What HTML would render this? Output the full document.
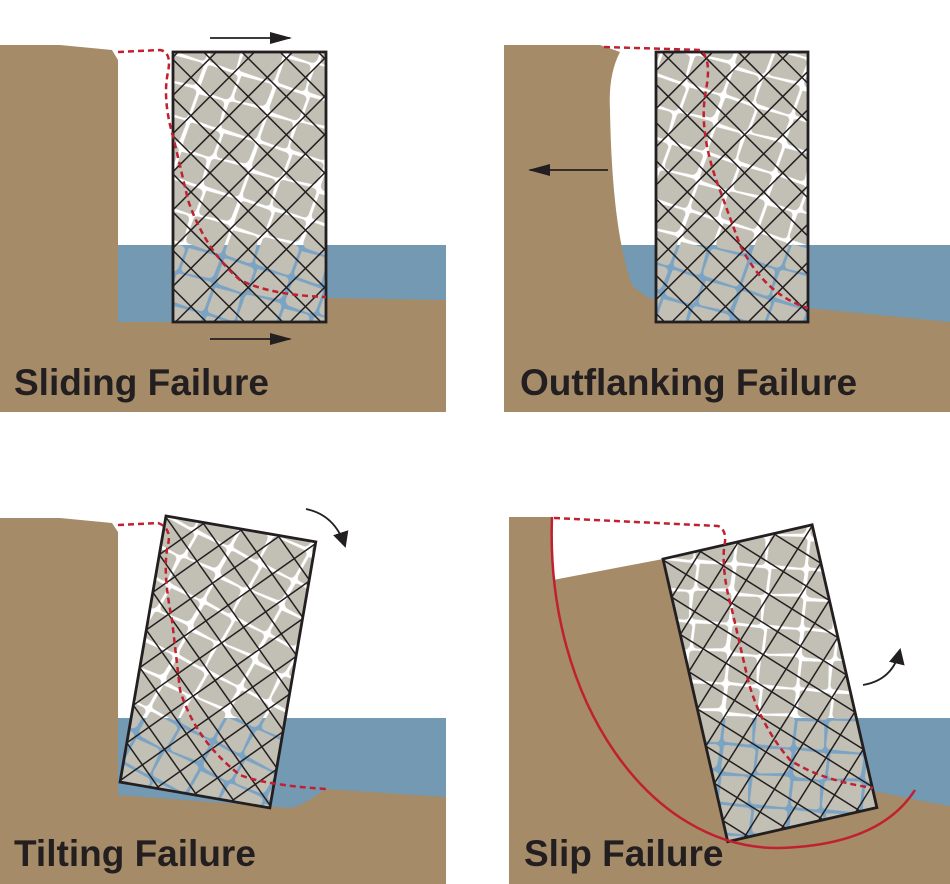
<!DOCTYPE html>
<html><head><meta charset="utf-8"><style>
html,body{margin:0;padding:0;background:#fff;}
svg{display:block;}
text{font-family:"Liberation Sans",sans-serif;font-weight:bold;font-size:37px;fill:#231f20;}
</style></head><body>
<svg width="950" height="884" viewBox="0 0 950 884" xmlns="http://www.w3.org/2000/svg">
<defs>
<g id="stones" fill="#c2bfb5">
<path d="M2,3 Q2,1 6,1 L30,2 Q35,3 34,8 L33,24 Q32,29 27,29 L6,28 Q1,27 1,22 Z"/>
<path d="M37,2 L66,1 Q71,2 70,7 L69,20 Q68,25 63,25 L41,27 Q36,27 36,22 Z"/>
<path d="M2,32 L24,31 Q29,31 29,36 L30,55 Q30,59 25,59 L5,58 Q1,58 1,53 Z"/>
<path d="M33,33 Q33,29 38,29 L66,28 Q71,28 71,33 L70,54 Q70,59 65,59 L37,58 Q32,58 32,53 Z"/>
</g>
<pattern id="sw" patternUnits="userSpaceOnUse" width="72" height="60" patternTransform="rotate(17)">
<rect width="72" height="60" fill="#fff"/><use href="#stones"/>
</pattern>
<pattern id="sb" patternUnits="userSpaceOnUse" width="72" height="60" patternTransform="rotate(17)">
<rect width="72" height="60" fill="#7aa3c4"/><use href="#stones"/>
</pattern>
<pattern id="grid" patternUnits="userSpaceOnUse" width="27" height="27" patternTransform="rotate(45)">
<path d="M0,0 V27 M0,0 H27" stroke="#231f20" stroke-width="3" fill="none"/>
</pattern>
<clipPath id="w1"><rect x="0" y="245" width="950" height="200"/></clipPath>
<clipPath id="w3"><rect x="0" y="718" width="950" height="200"/></clipPath>
<marker id="ah" markerWidth="22" markerHeight="12" refX="20" refY="6" orient="auto" markerUnits="userSpaceOnUse"><path d="M0,0 L22,6 L0,12 Z" fill="#231f20"/></marker>
<marker id="ah2" markerWidth="16" markerHeight="20" refX="14" refY="8" orient="auto" markerUnits="userSpaceOnUse"><path d="M0,0 L16,8 L0,16 Z" fill="#231f20"/></marker>
</defs>

<!-- Panel 1 -->
<rect x="118" y="245" width="328" height="80" fill="#7399b3"/>
<polygon points="0,45 60,45 112,50 118,60 118,322 326,322 326,298 446,300 446,412 0,412" fill="#a58b67"/>
<rect x="173" y="52" width="153" height="270" fill="url(#sw)"/>
<rect x="173" y="52" width="153" height="270" fill="url(#sb)" clip-path="url(#w1)"/>
<rect x="173" y="52" width="153" height="270" fill="url(#grid)" stroke="#231f20" stroke-width="2.8"/>
<path d="M118,52 L160,50 Q172,52 168,72 Q162,100 174,140 L188,200 Q205,250 240,280 Q270,295 326,297" fill="none" stroke="#c0202f" stroke-width="2.5" stroke-dasharray="6,4"/>
<line x1="210" y1="38" x2="290" y2="38" stroke="#231f20" stroke-width="1.8" marker-end="url(#ah)"/>
<line x1="210" y1="339" x2="290" y2="339" stroke="#231f20" stroke-width="1.8" marker-end="url(#ah)"/>
<text x="14" y="395">Sliding Failure</text>

<!-- Panel 2 -->
<rect x="600" y="245" width="350" height="80" fill="#7399b3"/>
<path d="M504,45 L600,45 L620,52 Q608,75 610,110 Q612,230 632,285 Q645,298 656,300 L656,322 L808,322 L808,308 L950,322 L950,412 L504,412 Z" fill="#a58b67"/>
<rect x="656" y="52" width="152" height="270" fill="url(#sw)"/>
<rect x="656" y="52" width="152" height="270" fill="url(#sb)" clip-path="url(#w1)"/>
<rect x="656" y="52" width="152" height="270" fill="url(#grid)" stroke="#231f20" stroke-width="2.8"/>
<path d="M604,47 L700,50 Q712,58 706,90 Q698,130 718,185 L740,245 Q765,295 808,308" fill="none" stroke="#c0202f" stroke-width="2.5" stroke-dasharray="6,4"/>
<line x1="608" y1="170" x2="530" y2="170" stroke="#231f20" stroke-width="1.8" marker-end="url(#ah)"/>
<text x="520" y="395">Outflanking Failure</text>

<!-- Panel 3 -->
<rect x="118" y="718" width="328" height="90" fill="#7399b3"/>
<path d="M0,518 L60,518 L112,523 L118,532 L118,795 L290,808 Q305,805 325,789 L446,797 L446,884 L0,884 Z" fill="#a58b67"/>
<g transform="translate(166,516) rotate(9.8)"><rect x="0" y="0" width="152" height="270" fill="url(#sw)"/></g>
<g clip-path="url(#w3)"><g transform="translate(166,516) rotate(9.8)"><rect x="0" y="0" width="152" height="270" fill="url(#sb)"/></g></g>
<g transform="translate(166,516) rotate(9.8)"><rect x="0" y="0" width="152" height="270" fill="url(#grid)" stroke="#231f20" stroke-width="2.8"/></g>
<path d="M118,525 L158,523 Q172,528 168,545 Q162,570 172,620 L180,690 Q195,740 240,775 Q265,785 326,789" fill="none" stroke="#c0202f" stroke-width="2.5" stroke-dasharray="6,4"/>
<path d="M306,509 Q335,515 345,546" fill="none" stroke="#231f20" stroke-width="1.8" marker-end="url(#ah2)"/>
<text x="14" y="866">Tilting Failure</text>

<!-- Panel 4 -->
<rect x="509" y="517" width="441" height="367" fill="#a58b67"/>
<polygon points="552,517 950,517 950,718 855,718 812,525 663,559 553,580" fill="#fff"/>
<path d="M855,718 L950,718 L950,806 Q900,797 870,790 Z" fill="#7399b3"/>
<g transform="translate(663,559) rotate(-12.9)"><rect x="0" y="0" width="153" height="290" fill="url(#sw)"/></g>
<g clip-path="url(#w3)"><g transform="translate(663,559) rotate(-12.9)"><rect x="0" y="0" width="153" height="290" fill="url(#sb)"/></g></g>
<g transform="translate(663,559) rotate(-12.9)"><rect x="0" y="0" width="153" height="290" fill="url(#grid)" stroke="#231f20" stroke-width="2.8"/></g>
<path d="M552,517 C545,700 650,850 780,848 Q880,845 915,790" fill="none" stroke="#c0202f" stroke-width="2.5"/>
<path d="M554,518 L718,526 Q728,530 724,548 Q722,575 732,610 L748,680 Q760,725 790,760 Q820,780 873,788" fill="none" stroke="#c0202f" stroke-width="2.5" stroke-dasharray="6,4"/>
<path d="M863,685 Q893,680 900,650" fill="none" stroke="#231f20" stroke-width="1.8" marker-end="url(#ah2)"/>
<text x="524" y="866">Slip Failure</text>
</svg>
</body></html>
